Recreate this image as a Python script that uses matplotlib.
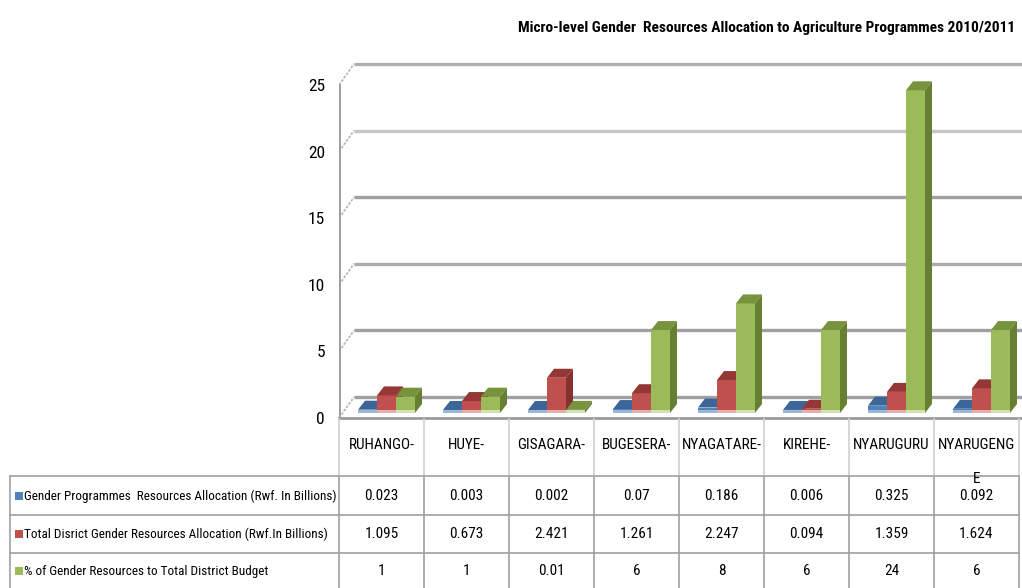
import matplotlib
matplotlib.use('Agg')
import matplotlib.pyplot as plt
from matplotlib.patches import Polygon
from matplotlib import font_manager as fm

# ---------------- data ----------------
districts = ['RUHANGO-', 'HUYE-', 'GISAGARA-', 'BUGESERA-', 'NYAGATARE-',
             'KIREHE-', 'NYARUGURU', 'NYARUGENG\nE']
gender_alloc = [0.023, 0.003, 0.002, 0.07, 0.186, 0.006, 0.325, 0.092]
total_alloc = [1.095, 0.673, 2.421, 1.261, 2.247, 0.094, 1.359, 1.624]
pct_gender = [1, 1, 0.01, 6, 8, 6, 24, 6]
series_names = ['Gender Programmes  Resources Allocation (Rwf. In Billions)',
                'Total Disrict Gender Resources Allocation (Rwf.In Billions)',
                '% of Gender Resources to Total District Budget']
y_ticks = [0, 5, 10, 15, 20, 25]
title = 'Micro-level Gender  Resources Allocation to Agriculture Programmes 2010/2011'


# ---------------- font selection (narrow font if available) ----------------
def _wt(e):
    w = e.weight
    if isinstance(w, str):
        return 700 if 'bold' in w.lower() else 400
    return w


def pick_font(bold=False):
    prefs = ['Liberation Sans Narrow', 'Roboto Condensed', 'Open Sans Condensed',
             'Noto Sans Condensed', 'DejaVu Sans Condensed']
    ents = [e for e in fm.fontManager.ttflist
            if e.style == 'normal' and ((_wt(e) >= 600) == bold)]
    for p in prefs:
        for e in ents:
            if e.name == p:
                return e.fname
    for key in ['narrow', 'condensed']:
        for e in ents:
            fn = e.fname.lower()
            if key in fn and 'semi' not in fn and 'extra' not in fn and 'mono' not in fn \
                    and 'serif' not in fn.replace('sans', ''):
                return e.fname
    return None


f_reg = pick_font(False)
f_bold = pick_font(True)


def fp(size, bold=False):
    fn = f_bold if bold else f_reg
    if fn:
        return fm.FontProperties(fname=fn, size=size)
    return fm.FontProperties(family=['DejaVu Sans'], size=size, stretch='condensed',
                             weight='bold' if bold else 'normal')


# ---------------- style ----------------
front_c = ['#4f81bd', '#c0504d', '#9bbb59']
top_c = ['#3d6698', '#953835', '#77933c']
side_c = ['#36598a', '#843230', '#667f33']
light_c = ['#9cb6d8', '#e4b0ae', '#d3e2b5']

W, H = 1022, 588
fig = plt.figure(figsize=(W / 100, H / 100), dpi=100)

# pixel geometry
X0, Y0 = 339, 418          # front-left corner of floor (value 0)
CAT = 85                   # px per category
PXY = 25 / 333             # value units per px
PXX = 1 / CAT              # category units per px
top_px = 40

ax = fig.add_axes([X0 / W, (H - Y0) / H, (W - X0) / W, (Y0 - top_px) / H])
xmax = (W - X0) / CAT
ymax = (Y0 - top_px) * PXY
ax.set_xlim(0, xmax)
ax.set_ylim(0, ymax)
for s in ax.spines.values():
    s.set_visible(False)
ax.set_xticks([])
ax.set_yticks(y_ticks)
ax.set_yticklabels([str(t) for t in y_ticks], fontproperties=fp(12.5))
ax.tick_params(axis='y', length=0, pad=10)

# back wall gridlines
bdx, bdy = 15 * PXX, 21 * PXY
grid_cols = {0: '#a0a0a0', 5: '#a0a0a0', 10: '#ababab', 15: '#a0a0a0', 20: '#c6c6c6', 25: '#b0b0b0'}
for t in y_ticks:
    ax.plot([bdx, xmax], [t + bdy, t + bdy], color=grid_cols[t], lw=2.4,
            solid_capstyle='butt', zorder=1)
    ax.plot([0, bdx], [t, t + bdy], color='#b8b8b8', lw=1.3, ls=(0, (1.5, 0.8)), zorder=1)
# front axis lines
ax.plot([0, 0], [0, 25], color='#9a9a9a', lw=2, zorder=2)
ax.plot([0, xmax], [0, 0], color='#9a9a9a', lw=2, zorder=2, clip_on=False)

# bars (pseudo 3D)
base = 8 * PXY
bw = 19 * PXX
g0 = 19 * PXX
ddx, ddy = 7 * PXX, 9 * PXY
strip = 3 * PXY
series = [gender_alloc, total_alloc, pct_gender]
z = 3
for i in range(len(districts)):
    for j, vals in enumerate(series):
        v = vals[i]
        xl = i + g0 + j * bw
        ax.bar(xl, strip, bottom=base - strip, width=bw, align='edge',
               color=light_c[j], lw=0, zorder=z)
        ax.bar(xl, v, bottom=base, width=bw, align='edge',
               color=front_c[j], lw=0, zorder=z)
        ytop = base + v
        ax.add_patch(Polygon([(xl, ytop), (xl + bw, ytop), (xl + bw + ddx, ytop + ddy),
                              (xl + ddx, ytop + ddy)], closed=True,
                             facecolor=top_c[j], lw=0, zorder=z))
        ax.add_patch(Polygon([(xl + bw, base - strip), (xl + bw + ddx, base - strip + ddy),
                              (xl + bw + ddx, ytop + ddy), (xl + bw, ytop)], closed=True,
                             facecolor=side_c[j], lw=0, zorder=z))
        z += 1

# title
fig.text(1015 / W, 1 - 28 / H, title, ha='right', va='center', fontproperties=fp(11.1, True))

# ---------------- data table ----------------
tax = fig.add_axes([0, 0, 1, (H - Y0) / H])
tax.set_xlim(0, W)
tax.set_ylim(H, Y0)
tax.axis('off')
row_tops = [476, 515, 553, 592]
ncat = len(districts)
xr = X0 + ncat * CAT
for yy in row_tops[:-1]:
    tax.plot([10, xr], [yy, yy], color='#a0a0a0', lw=1.2, clip_on=False)
tax.plot([10, 10], [row_tops[0], H], color='#a0a0a0', lw=1.2)
for k in range(ncat + 1):
    xx = X0 + k * CAT
    tax.plot([xx, xx], [Y0, row_tops[0]], color='#d0d0d0', lw=1.2)
    tax.plot([xx, xx], [row_tops[0], H], color='#a0a0a0', lw=1.2)
for k, name in enumerate(districts):
    tax.text(X0 + k * CAT + CAT / 2, 438, name, ha='center', va='top',
             fontproperties=fp(11), linespacing=2.8)
row_centers = [496, 534, 571]
for r, (name, vals) in enumerate(zip(series_names, series)):
    yc = row_centers[r]
    tax.add_patch(plt.Rectangle((15, yc - 4), 8, 8, facecolor=front_c[r], lw=0))
    tax.text(24, yc, name, ha='left', va='center', fontproperties=fp(9.5))
    for k, v in enumerate(vals):
        tax.text(X0 + k * CAT + CAT / 2, yc, f'{v:g}', ha='center', va='center',
                 fontproperties=fp(11))

fig.savefig('out.png', dpi=100)
